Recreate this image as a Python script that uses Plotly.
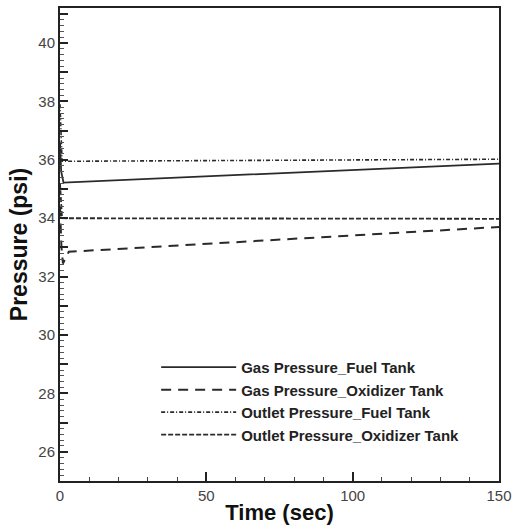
import plotly.graph_objects as go

# Time samples (sec) and tank pressures (psi) for each series
time_gas_fuel = [0, 0.4, 1.2, 150]
gas_fuel = [36.6, 35.6, 35.22, 35.87]

time_gas_ox = [0, 0.5, 1.0, 3.0, 150]
gas_ox = [34.4, 33.0, 32.45, 32.85, 33.7]

time_out_fuel = [0, 0.3, 0.7, 150]
out_fuel = [37.9, 36.6, 35.95, 36.02]

time_out_ox = [0, 0.3, 0.7, 150]
out_ox = [35.2, 34.4, 34.0, 33.98]

series_names = [
    "Gas Pressure_Fuel Tank",
    "Gas Pressure_Oxidizer Tank",
    "Outlet Pressure_Fuel Tank",
    "Outlet Pressure_Oxidizer Tank",
]

# Axis ticks
y_major = list(range(25, 42))
y_labels = [str(v) if v % 2 == 0 else "" for v in y_major]
x_major = [0, 50, 100, 150]

line_color = "#2a2a2a"
styles = [
    dict(dash="solid", width=1.8),
    dict(dash="10px,7px", width=2),
    dict(dash="4px,2px,1px,2px", width=1.6),
    dict(dash="5px,2px", width=1.8),
]

fig = go.Figure()
for i, (tx, py) in enumerate([
    (time_gas_fuel, gas_fuel),
    (time_gas_ox, gas_ox),
    (time_out_fuel, out_fuel),
    (time_out_ox, out_ox),
]):
    fig.add_trace(go.Scatter(
        x=tx, y=py, mode="lines", name=series_names[i],
        line=dict(color=line_color, **styles[i]),
    ))

font_family = "Liberation Sans, Arial, sans-serif"

fig.update_layout(
    width=512, height=526,
    margin=dict(l=60, r=13, t=8, b=45),
    paper_bgcolor="white", plot_bgcolor="white",
    font=dict(family=font_family, color="#333"),
    showlegend=True,
    legend=dict(
        x=0.219, y=0.275, xanchor="left", yanchor="top",
        bgcolor="rgba(0,0,0,0)", borderwidth=0,
        font=dict(family=font_family, size=15, color="#222", weight="bold"),
        itemwidth=75,
    ),
    xaxis=dict(
        range=[0, 150], tickvals=x_major, automargin=False,
        ticks="inside", ticklen=9, tickwidth=2, tickcolor="#222",
        minor=dict(dtick=10, ticks="inside", ticklen=4, tickwidth=1, tickcolor="#444"),
        showline=True, linewidth=2, linecolor="#222", mirror=True,
        showgrid=False, zeroline=False,
        tickfont=dict(size=15, color="#444"),
        title=dict(text="Time (sec)", font=dict(size=22, color="#111", weight="bold"), standoff=2),
    ),
    yaxis=dict(
        range=[25, 41.2], tickvals=y_major, ticktext=y_labels, automargin=False,
        ticks="inside", ticklen=8, tickwidth=2, tickcolor="#222",
        minor=dict(dtick=0.2, ticks="inside", ticklen=4, tickwidth=1, tickcolor="#555"),
        showline=True, linewidth=2, linecolor="#222", mirror=True,
        showgrid=False, zeroline=False,
        tickfont=dict(size=15, color="#444"),
        title=dict(text="Pressure (psi)", font=dict(size=23, color="#111", weight="bold"), standoff=4),
    ),
)

fig.write_html("out.html")
